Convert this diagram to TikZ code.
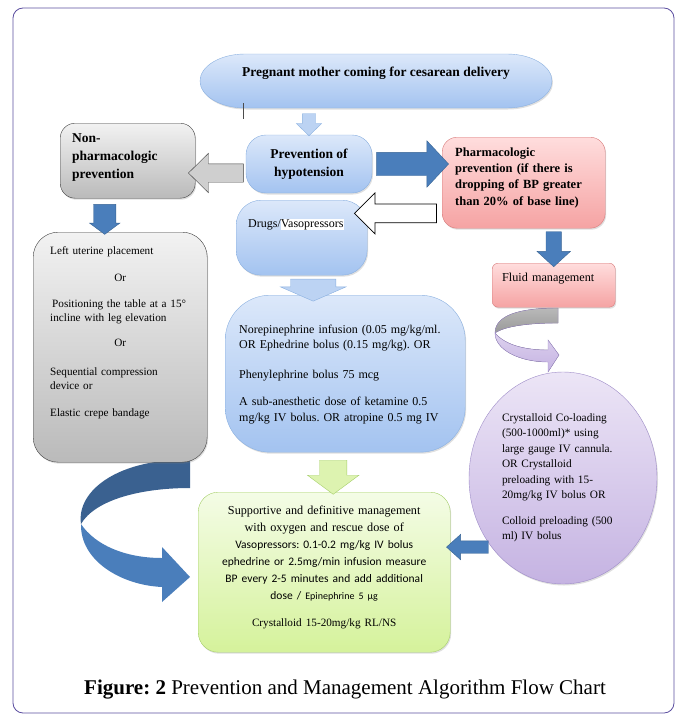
\documentclass[tikz,border=0pt]{standalone}
\usepackage{fontspec}
\setmainfont{Liberation Serif}
\newfontfamily\calibrifont{Carlito}
\usetikzlibrary{shapes.geometric,shapes.arrows,shadows}
\frenchspacing
\definecolor{bluetop}{HTML}{DCE8FA}
\definecolor{bluebot}{HTML}{A3C3F0}
\definecolor{bluemid}{HTML}{BCD3F3}
\definecolor{blueline}{HTML}{8AB0E0}
\definecolor{graytop}{HTML}{F2F2F2}
\definecolor{graybot}{HTML}{BABABA}
\definecolor{grayline}{HTML}{404040}
\definecolor{pinktop}{HTML}{FFDDDD}
\definecolor{pinkbot}{HTML}{F5A3A3}
\definecolor{pinkline}{HTML}{D77A7A}
\definecolor{greentop}{HTML}{F4FCE6}
\definecolor{greenbot}{HTML}{D5F29B}
\definecolor{greenline}{HTML}{A6CF6A}
\definecolor{greenmid}{HTML}{DDF3B0}
\definecolor{lavtop}{HTML}{ECE5F6}
\definecolor{lavbot}{HTML}{C5B3E2}
\definecolor{lavline}{HTML}{9E8CC8}
\definecolor{darkarrow}{HTML}{4A7EBB}
\definecolor{darkback}{HTML}{3A6190}
\definecolor{darkline}{HTML}{3A6594}
\definecolor{framecol}{HTML}{5B4EA0}
\begin{document}
\begin{tikzpicture}
		[x=1pt,y=-1pt,
		boxshadow/.style={drop shadow={shadow xshift=1pt,shadow yshift=-1.5pt,opacity=0.25}},
		bluebox/.style={rectangle,rounded corners=20pt,draw=blueline,top color=bluetop,bottom color=bluebot,boxshadow},
		graybox/.style={rectangle,rounded corners=15pt,draw=grayline,top color=graytop,bottom color=graybot,boxshadow},
		pinkbox/.style={rectangle,rounded corners=15pt,draw=pinkline,top color=pinktop,bottom color=pinkbot,boxshadow},
		greenbox/.style={rectangle,rounded corners=20pt,draw=greenline,top color=greentop,bottom color=greenbot,boxshadow},
		topleft/.style={anchor=north west,inner ysep=0pt,align=left},
		arrowbase/.style={single arrow,inner sep=0pt,midway,sloped,allow upside down},
		lightarrow/.style={arrowbase,draw=blueline,fill=bluemid},
		darkblock/.style={arrowbase,draw=darkline,fill=darkarrow},
		grayblock/.style={arrowbase,draw=grayline,fill=graybot!70!white},
		whiteblock/.style={arrowbase,draw=black,fill=white,thick},
		greenblock/.style={arrowbase,draw=greenline,fill=greenmid}]
		\useasboundingbox (0,0) rectangle (679,715);
		\draw[framecol,line width=0.8pt,rounded corners=10pt] (13,8) rectangle (674,713);
		\fill[darkback] (190,460) .. controls (120,458) and (76,490) .. (81,524)
			.. controls (95,500) and (140,488) .. (190,488) -- cycle;
		\fill[darkarrow] (81,524) .. controls (80,560) and (120,585) .. (162,587) -- (162,602)
			-- (190,577) -- (162,547) -- (162,558) .. controls (125,558) and (95,545) .. (81,524) -- cycle;
		\filldraw[draw=lavline,top color=gray!55,bottom color=gray!80] (558,308) .. controls (520,308) and (495,315) .. (495,333)
			.. controls (505,326) and (530,323) .. (558,323) -- cycle;
		\filldraw[draw=lavline,top color=lavtop!60!lavbot,bottom color=lavbot] (495,333)
			.. controls (495,350) and (520,362) .. (548,362) -- (548,372) -- (559,355) -- (548,340)
			-- (548,350) .. controls (525,350) and (505,345) .. (495,333) -- cycle;
		\path[draw=blueline,top color=bluetop,bottom color=bluebot,boxshadow] (245,54) -- (507,54)
			arc[start angle=90,end angle=-90,x radius=45pt,y radius=27pt] -- (245,108)
			arc[start angle=270,end angle=90,x radius=45pt,y radius=27pt] -- cycle;
		\node at (376,81) (start) [minimum width=352pt,minimum height=54pt,inner sep=0pt,text height=10pt,
			text depth=20pt,font=\bfseries\fontsize{13.5}{15}\selectfont]
			{Pregnant mother coming for cesarean delivery};
		\draw[gray!60!black,line width=0.6pt] (243,103) -- (243,119);
		\node at (309,164) (prevent) [bluebox,minimum width=126pt,minimum height=58pt,align=center,
			font=\bfseries\fontsize{13.5}{18}\selectfont] {Prevention of\\hypotension};
		\node at (60,123) (nonpharm) [graybox,topleft,inner xsep=12pt,text width=111pt,text height=19pt,
			text depth=56pt,font=\bfseries\fontsize{13.5}{18}\selectfont] {Non-\\pharmacologic\\prevention};
		\node at (33,232) (nonpharmlist) [graybox,rounded corners=25pt,topleft,inner xsep=17pt,text width=140pt,
			text height=22pt,text depth=208pt,font=\fontsize{11.2}{14}\selectfont]
			{Left uterine placement\\[13pt]\makebox[\linewidth]{Or}\\[12pt]\hspace*{2pt}Positioning the table at a 15°\\
			incline with leg elevation\\[11pt]\makebox[\linewidth]{Or}\\[15pt]Sequential compression\\device or\\[13pt]
			Elastic crepe bandage};
		\node at (442,137) (pharm) [pinkbox,topleft,inner xsep=13pt,text width=137pt,text height=19pt,
			text depth=72pt,font=\bfseries\fontsize{12.5}{16.3}\selectfont]
			{Pharmacologic\\prevention (if there is\\dropping of BP greater\\than 20\% of base line)};
		\node at (236,200) (drugs) [bluebox,rounded corners=25pt,topleft,inner xsep=12pt,text width=107pt,
			text height=27pt,text depth=48pt,font=\fontsize{12}{13}\selectfont]
			{Drugs/{\fboxsep=0pt\colorbox{white}{Vasopressors}}};
		\node at (225,295) (drugopts) [bluebox,rounded corners=45pt,topleft,inner xsep=14pt,text width=212pt,
			text height=38pt,text depth=119pt,font=\fontsize{12}{15.5}\selectfont]
			{Norepinephrine infusion (0.05 mg/kg/ml.\\OR Ephedrine bolus (0.15 mg/kg). OR\\[14pt]
			Phenylephrine bolus 75 mcg\\[12pt]\makebox[208pt][s]{A sub-anesthetic dose of ketamine 0.5}\\
			mg/kg IV bolus. OR atropine 0.5 mg IV};
		\node at (198,492) (manage) [greenbox,anchor=north west,inner xsep=6pt,inner ysep=0pt,text width=240pt,
			text height=22pt,text depth=138pt,align=center,font=\fontsize{12.2}{17}\selectfont]
			{Supportive and definitive management\\with oxygen and rescue dose of\\
			{\calibrifont\fontsize{11.5}{17}\selectfont Vasopressors: 0.1-0.2 mg/kg IV bolus}\\
			{\calibrifont\fontsize{11.5}{17}\selectfont ephedrine or 2.5mg/min infusion measure}\\
			{\calibrifont\fontsize{11.5}{17}\selectfont BP every 2-5 minutes and add additional}\\
			{\calibrifont\fontsize{11.5}{17}\selectfont dose / {\fontsize{10}{17}\selectfont Epinephrine 5 µg}}\\[10pt]
			{\fontsize{11.2}{17}\selectfont Crystalloid 15-20mg/kg RL/NS}};
		\node at (492,263) (fluid) [pinkbox,rounded corners=6pt,topleft,inner xsep=10pt,text width=103pt,
			text height=18pt,text depth=26pt,font=\fontsize{12.2}{13}\selectfont] {Fluid management};
		\node at (563,478) (fluidopts) [ellipse,draw=lavline,top color=lavtop,bottom color=lavbot,boxshadow,
			minimum width=188pt,minimum height=212pt,inner sep=0pt,text width=122pt,align=left,
			font=\fontsize{11.3}{15.5}\selectfont]
			{Crystalloid Co-loading\\(500-1000ml)* using\\large gauge IV cannula.\\OR Crystalloid\\
			preloading with 15-\\20mg/kg IV bolus OR\\[10pt]Colloid preloading (500\\ml) IV bolus};
		\node at (345,690) (caption) [font=\fontsize{21}{24}\selectfont]
			{\textbf{Figure: 2} Prevention and Management Algorithm Flow Chart};
		\path (prevent.north |- start.south) -- (prevent.north)
			node (a1) [lightarrow,minimum height=22pt,inner ysep=6.5pt,single arrow head extend=6pt,single arrow tip angle=92] {};
		\path ([yshift=-9pt]prevent.west) -- ([yshift=-9pt]prevent.west -| nonpharm.east)
			node (a2) [grayblock,minimum height=55pt,inner ysep=9pt,single arrow head extend=10.5pt,single arrow tip angle=89] {};
		\path (prevent.east) -- (prevent.east -| pharm.west)
			node (a3) [darkblock,minimum height=72pt,inner ysep=11.5pt,single arrow head extend=11.5pt,single arrow tip angle=94] {};
		\coordinate (a4s) at ([yshift=15pt]pharm.south west);
		\path (a4s) -- ([xshift=-9pt]a4s -| drugs.east)
			node (a4) [whiteblock,minimum height=82pt,inner ysep=9pt,single arrow head extend=11pt,single arrow tip angle=90] {};
		\path ([xshift=-23pt]nonpharm.south) -- ([xshift=-23pt]nonpharm.south |- nonpharmlist.north)
			node (a5) [darkblock,minimum height=30pt,inner ysep=11pt,single arrow head extend=4pt,single arrow tip angle=107] {};
		\path ([xshift=11.5pt]drugs.south) -- ([xshift=11.5pt]drugs.south |- drugopts.north)
			node (a6) [lightarrow,minimum height=22pt,inner ysep=22.5pt,single arrow head extend=10pt,single arrow tip angle=133] {};
		\path ([xshift=9pt]manage.north |- drugopts.south) -- ([xshift=9pt]manage.north)
			node (a7) [greenblock,minimum height=34pt,inner ysep=13.5pt,single arrow head extend=12pt,single arrow tip angle=107] {};
		\path (fluid.north |- pharm.south) -- (fluid.north)
			node (a8) [darkblock,minimum height=35pt,inner ysep=7.5pt,single arrow head extend=9pt,single arrow tip angle=95] {};
		\path (fluidopts.224) -- (fluidopts.224 -| manage.east)
			node (a9) [darkblock,minimum height=42pt,inner ysep=6pt,single arrow head extend=6.5pt,single arrow tip angle=84] {};
	\end{tikzpicture}
\end{document}
